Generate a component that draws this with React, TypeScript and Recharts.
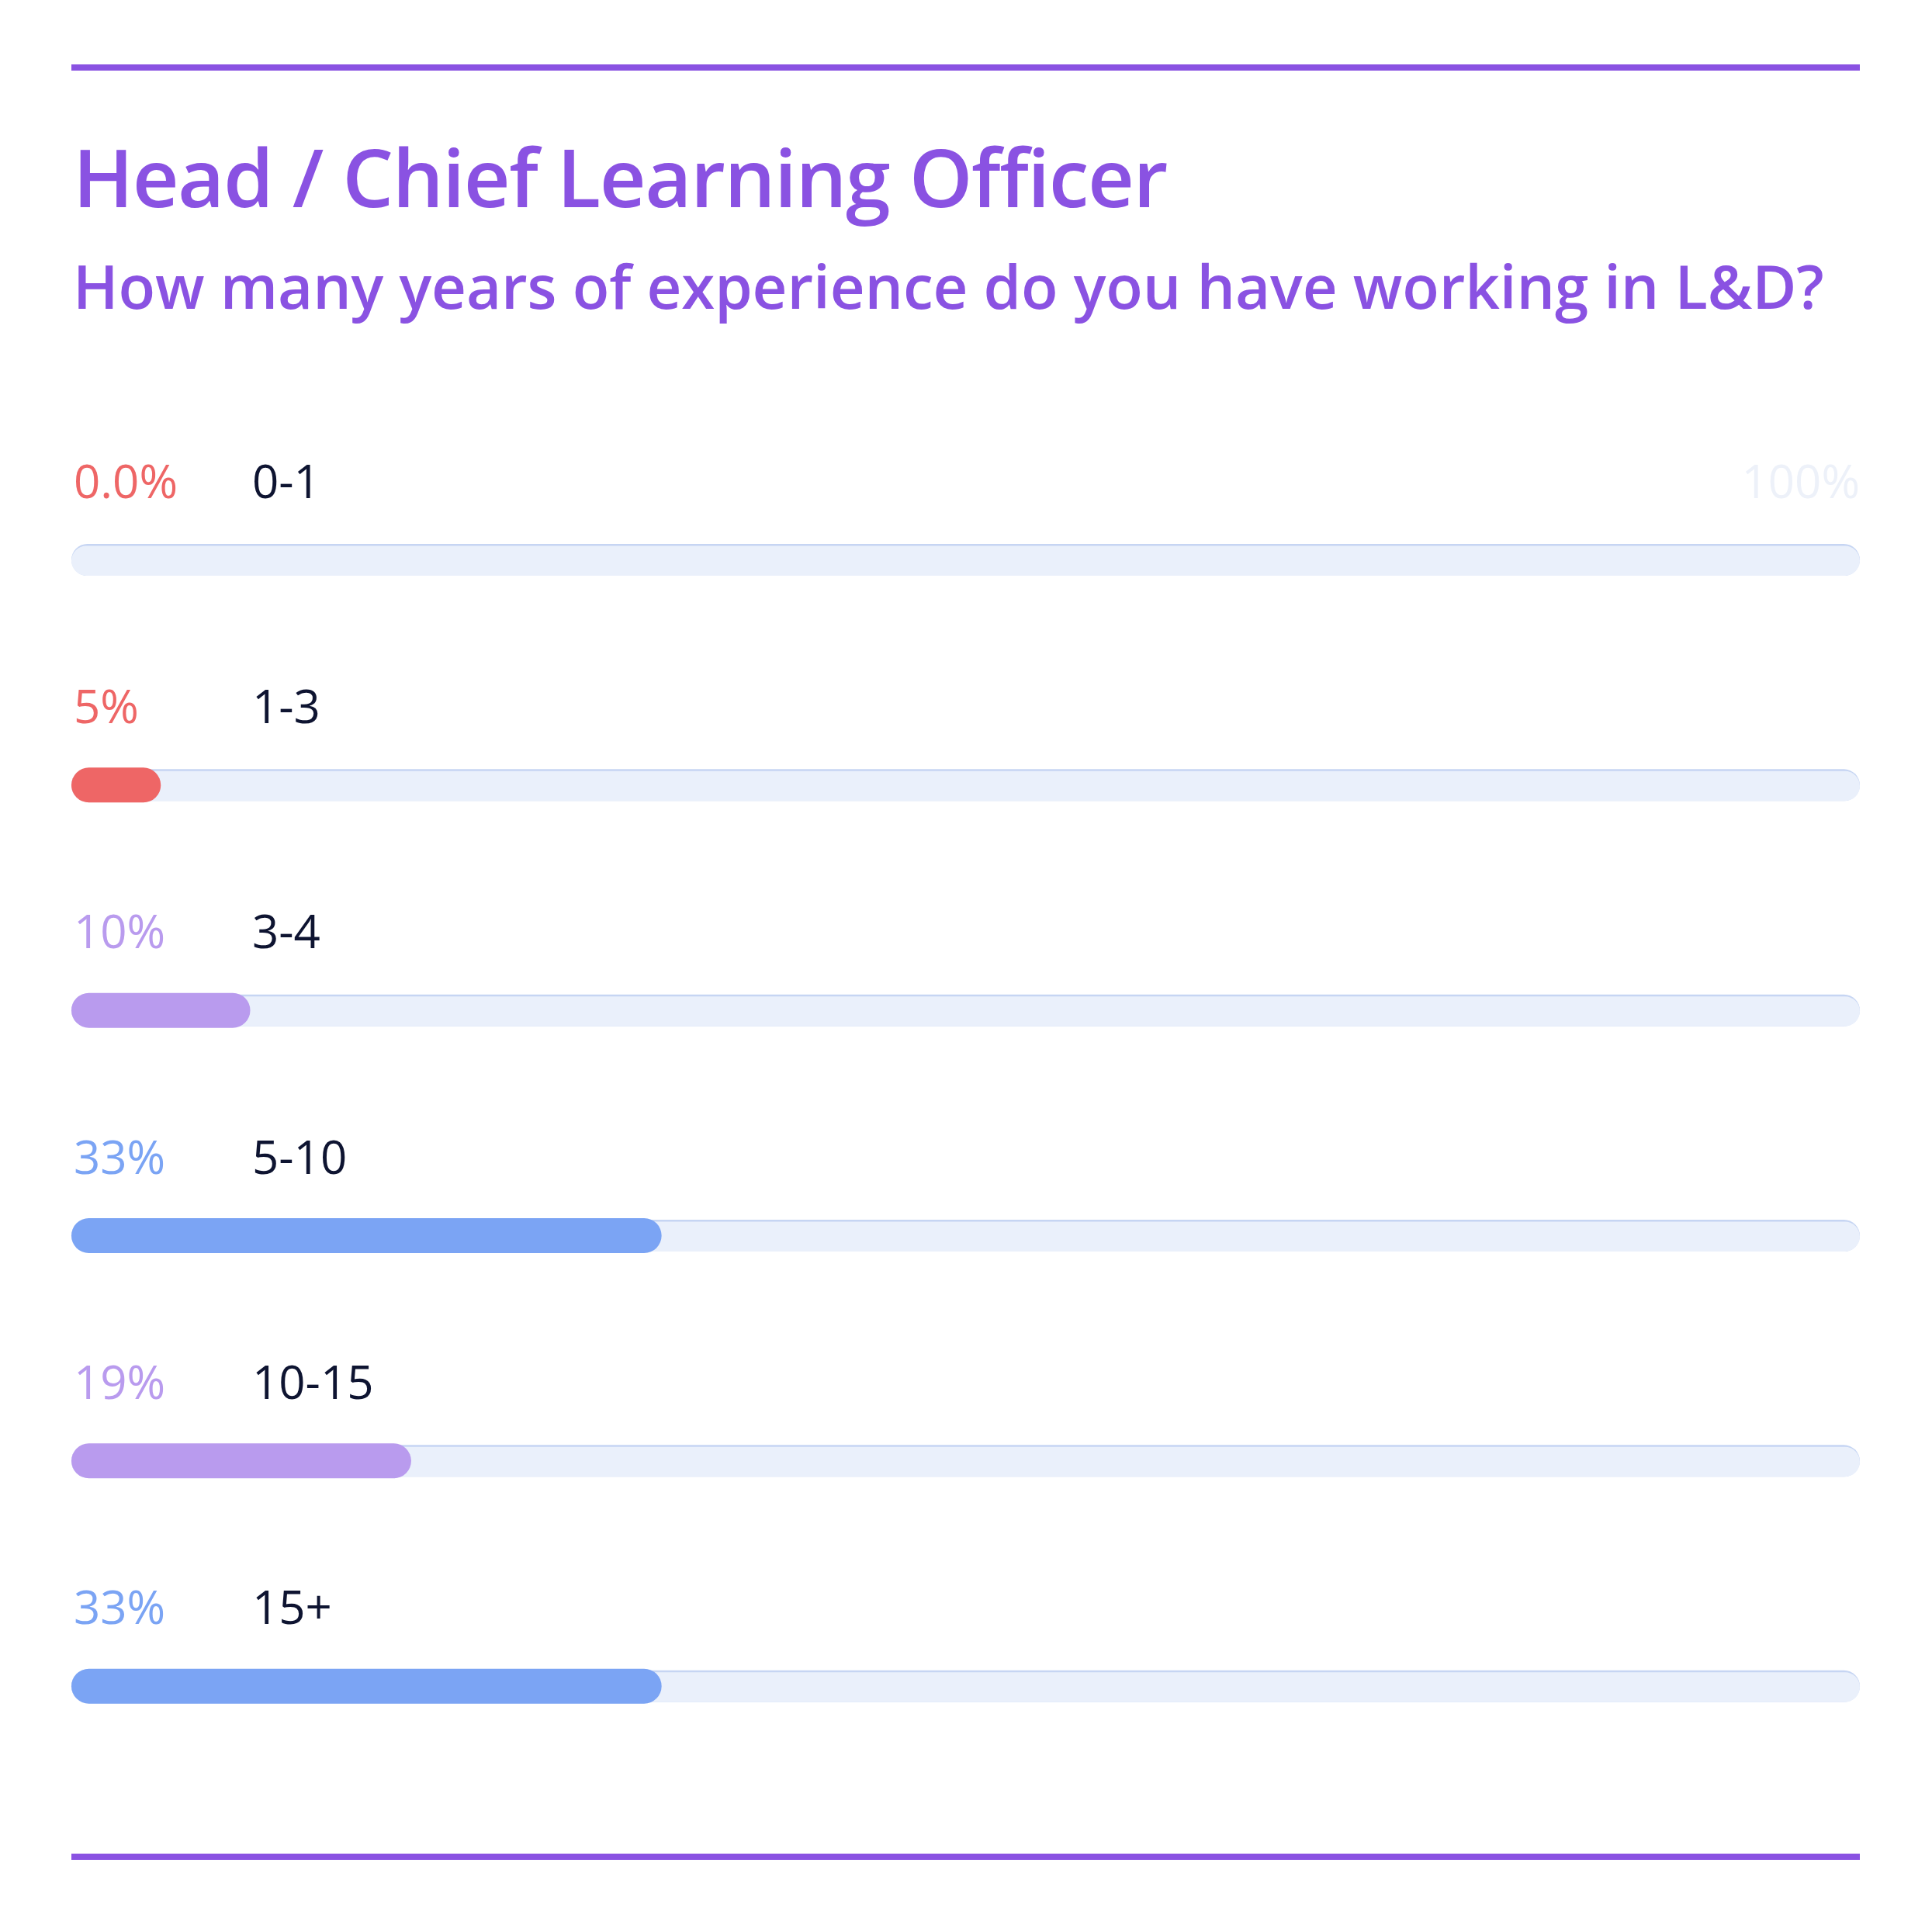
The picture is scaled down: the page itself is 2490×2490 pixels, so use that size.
import React from "react";
import { Bar, BarChart, Cell, LabelList, XAxis, YAxis } from "recharts";

const ranges = ["0-1", "1-3", "3-4", "5-10", "10-15", "15+"];
const shares = [0, 5, 10, 33, 19, 33];
const shareLabels = ["0.0%", "5%", "10%", "33%", "19%", "33%"];
const barColors = ["#ee6666", "#ee6666", "#b99bee", "#7ba4f4", "#b99bee", "#7ba4f4"];
const FULL = 100;

const TITLE = "Head / Chief Learning Officer";
const SUBTITLE = "How many years of experience do you have working in L&D?";

const W = 2490;
const H = 2490;
const LEFT = 92;
const RIGHT = 2397;
const PURPLE = "#8a52e2";
const FONT = "'Open Sans', sans-serif";

const data = ranges.map((range, i) => ({ range, value: shares[i], full: FULL }));

// grey track with a thin bluish rim on top
function Track(props: any) {
  const { x, y, width, height } = props;
  return (
    <g>
      <rect x={x} y={y} width={width} height={height} rx={height / 2} fill="#c6d5f3" />
      <rect x={x} y={y + 2.5} width={width} height={height - 2.5} rx={(height - 2.5) / 2} fill="#eaf0fb" />
    </g>
  );
}

function RowLabel(props: any) {
  const { x, y, height, index } = props;
  const base = y + height / 2 - 80;
  return (
    <g>
      <text x={x + 3} y={base} fill={barColors[index]} fontSize={60} fontFamily={FONT} fontWeight={500}>
        {shareLabels[index]}
      </text>
      <text x={x + 233} y={base} fill="#0e1431" fontSize={60} fontFamily={FONT}>
        {ranges[index]}
      </text>
    </g>
  );
}

export default function App() {
  return (
    <div style={{ position: "absolute", left: 0, top: 0, width: W, height: H, background: "#fff" }}>
      <BarChart
        width={W}
        height={H}
        data={data}
        layout="vertical"
        margin={{ top: 576, right: W - RIGHT, bottom: 172, left: LEFT }}
      >
        <XAxis type="number" domain={[0, FULL]} hide />
        <YAxis yAxisId="track" type="category" dataKey="range" hide />
        <YAxis yAxisId="fill" type="category" dataKey="range" hide />
        <Bar yAxisId="track" dataKey="full" barSize={41} shape={<Track />} isAnimationActive={false}>
          <LabelList dataKey="full" content={<RowLabel />} />
        </Bar>
        <Bar yAxisId="fill" dataKey="value" barSize={45} radius={22.5} isAnimationActive={false}>
          {data.map((d, i) => (
            <Cell key={d.range} fill={barColors[i]} />
          ))}
        </Bar>
      </BarChart>
      <svg
        width={W}
        height={H}
        style={{ position: "absolute", left: 0, top: 0, pointerEvents: "none" }}
      >
        <rect x={LEFT} y={83} width={RIGHT - LEFT} height={8} fill={PURPLE} />
        <rect x={LEFT} y={2389} width={RIGHT - LEFT} height={8} fill={PURPLE} />
        <text x={94} y={267} fill={PURPLE} fontSize={104} fontWeight={600} fontFamily={FONT} letterSpacing={-1.5}>
          {TITLE}
        </text>
        <text x={94} y={398} fill={PURPLE} fontSize={78} fontWeight={600} fontFamily={FONT} letterSpacing={-0.1}>
          {SUBTITLE}
        </text>
        <text x={RIGHT} y={642} fill="#edf1f9" fontSize={60} fontFamily={FONT} textAnchor="end">
          100%
        </text>
      </svg>
    </div>
  );
}
